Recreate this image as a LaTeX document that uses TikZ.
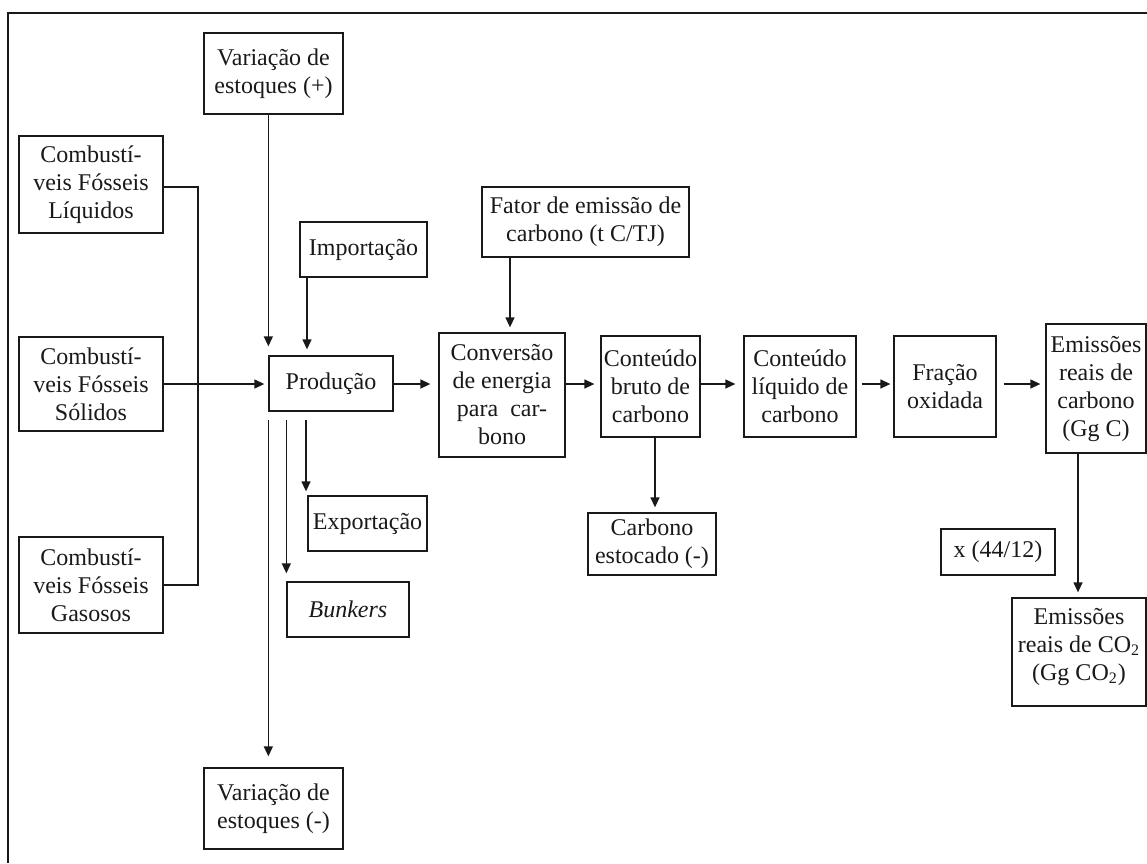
\documentclass[tikz,border=0pt]{standalone}
\usepackage{fontspec}
\setmainfont{Liberation Serif}
\usetikzlibrary{arrows.meta,calc}
\begin{document}
\begin{tikzpicture}[x=0.5pt,y=-0.5pt,
  box/.style={draw=black!90, line width=0.65pt, inner sep=0pt, align=center,
    font=\fontsize{12}{14}\selectfont, text=black!90},
  arr/.style={draw=black!90, line width=0.65pt, -{Triangle[length=5pt,width=4.5pt]}},
  ln/.style={draw=black!90, line width=0.65pt}]
\useasboundingbox (0,0) rectangle (1147,863);
\draw[ln] (8,863) -- (8,13) -- (1147,13);
% nodes
\node[box, minimum width=69.5pt, minimum height=40.5pt] (vplus) at (273.5,73.5) {Variação de\\estoques (+)};
\node[box, minimum width=72pt, minimum height=48.5pt] (liq) at (91,184.5) {Combustí-\\veis Fósseis\\Líquidos};
\node[box, minimum width=63.5pt, minimum height=27.5pt] (imp) at (363.5,249.5) {Importação};
\node[box, minimum width=72pt, minimum height=47pt] (sol) at (91,384) {Combustí-\\veis Fósseis\\Sólidos};
\node[box, minimum width=62pt, minimum height=27.5pt] (prod) at (331,383.5) {Produção};
\node[box, minimum width=72pt, minimum height=48pt] (gas) at (91,585) {Combustí-\\veis Fósseis\\Gasosos};
\node[box, minimum width=59.5pt, minimum height=27.5pt] (exp) at (367.5,523.5) {Exportação};
\node[box, minimum width=61pt, minimum height=27.5pt] (bunk) at (348,609.5) {\textit{Bunkers}};
\node[box, minimum width=69.5pt, minimum height=40.5pt] (vminus) at (273.5,808.5) {Variação de\\estoques (-)};
\node[box, minimum width=103.5pt, minimum height=35pt] (fator) at (585.5,222) {Fator de emissão de\\carbono (t C/TJ)};
\node[box, minimum width=63pt, minimum height=62pt] (conv) at (502,395) {Conversão\\de energia\\para\enspace car-\\bono};
\node[box, minimum width=49.5pt, minimum height=50.5pt] (bruto) at (650.5,386.5) {Conteúdo\\bruto de\\carbono};
\node[box, minimum width=56pt, minimum height=50.5pt] (liqc) at (800,386.5) {Conteúdo\\líquido de\\carbono};
\node[box, minimum width=64pt, minimum height=31pt] (estoc) at (652,544) {Carbono\\estocado (-)};
\node[box, minimum width=51pt, minimum height=50.5pt] (frac) at (945,386.5) {Fração\\oxidada};
\node[box, minimum width=50pt, minimum height=64.5pt] (emc) at (1096,388.5) {Emissões\\reais de\\carbono\\(Gg C)};
\node[box, minimum width=57pt, minimum height=23pt] (x44) at (998,552) {x (44/12)};
\node[box, minimum width=67pt, minimum height=54pt, text depth=8pt] (emco) at (1079,652) {Emissões\\reais de CO\textsubscript{2}\\(Gg CO\textsubscript{2})};
% helper coordinates
\coordinate (main) at (0,384);
\coordinate (bus) at (198,0);
\coordinate (ximp) at (307,0);
\coordinate (xexp) at (306,0);
\coordinate (xfat) at (510,0);
\coordinate (xbru) at (655,0);
\coordinate (xemc) at (1078,0);
% connectors
\draw[ln] (liq.east |- 0,187) -| (bus |- gas.east) -- (gas.east);
\draw[arr, shorten >=2pt] (sol.east |- main) -- (prod.west |- main);
\draw[arr, shorten >=4.5pt] (vplus.south -| prod.west) -- (prod.north west);
\draw[arr, shorten >=3pt] (imp.south -| ximp) -- (prod.north -| ximp);
\draw[arr, shorten <=4pt, shorten >=5.5pt] (prod.south west) -- (vminus.north -| prod.west);
\draw[arr, shorten <=4pt, shorten >=4pt] (prod.south -| bunk.west) -- (bunk.north west);
\draw[arr, shorten <=4pt, shorten >=2pt] (prod.south -| xexp) -- (exp.north -| xexp);
\draw[arr, shorten >=4pt] (prod.east |- main) -- (conv.west |- main);
\draw[arr, shorten >=2.5pt] (fator.south -| xfat) -- (conv.north -| xfat);
\draw[arr, shorten >=3pt] (conv.east |- main) -- (bruto.west |- main);
\draw[arr, shorten >=4pt] (bruto.east |- main) -- (liqc.west |- main);
\draw[arr, shorten >=2.5pt] (bruto.south -| xbru) -- (estoc.north -| xbru);
\draw[arr, shorten <=2.5pt, shorten >=1.5pt] (liqc.east |- main) -- (frac.west |- main);
\draw[arr, shorten <=3.5pt, shorten >=2.5pt] (frac.east |- main) -- (emc.west |- main);
\draw[arr, shorten >=2.5pt] (emc.south -| xemc) -- (emco.north -| xemc);
\end{tikzpicture}
\end{document}
